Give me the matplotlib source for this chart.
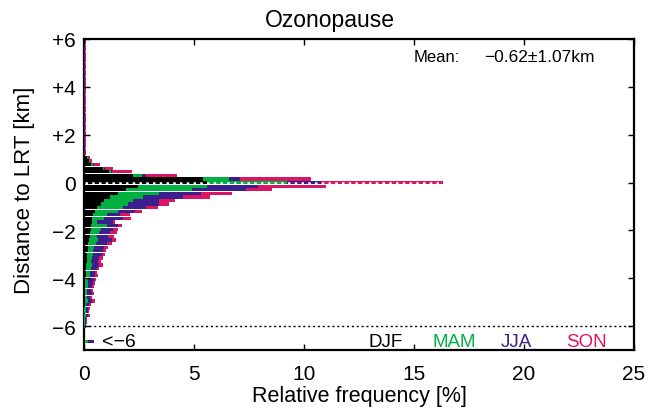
import numpy as np
import matplotlib
matplotlib.use("Agg")
import matplotlib.pyplot as plt

plt.rcParams["font.family"] = ["Liberation Sans", "DejaVu Sans"]

# bin centres (km), top to bottom
bin_km = [round(6.0 - 0.15 * i, 2) for i in range(81)]

# cumulative right ends for bins +1.05 ... -6.0 (DJF, +MAM, +JJA, +SON)
cum_rows = [
    (0.15, 0.17, 0.19, 0.25), (0.24, 0.25, 0.27, 0.35), (0.32, 0.42, 0.45, 0.73),
    (0.85, 0.92, 0.95, 1.33), (1.15, 1.23, 1.29, 2.17), (2.24, 2.62, 2.82, 4.21),
    (5.4, 6.6, 7.1, 10.3), (5.6, 9.24, 10.76, 16.33), (2.47, 5.58, 7.92, 11.0),
    (1.91, 4.9, 7.35, 8.53), (1.56, 3.41, 5.32, 6.74), (1.18, 2.7, 4.5, 5.73),
    (0.9, 2.24, 3.42, 4.14), (0.75, 2.0, 3.42, 3.88), (0.6, 1.79, 2.82, 3.38),
    (0.5, 1.56, 2.32, 2.62), (0.42, 1.03, 1.64, 2.09), (0.38, 0.91, 1.79, 2.14),
    (0.35, 0.61, 1.33, 1.41), (0.33, 1.03, 1.56, 1.71), (0.3, 0.75, 1.3, 1.55),
    (0.28, 0.7, 1.2, 1.5), (0.25, 0.6, 1.1, 1.35), (0.22, 0.62, 1.25, 1.45),
    (0.2, 0.55, 1.05, 1.25), (0.18, 0.45, 0.9, 1.1), (0.16, 0.42, 0.85, 1.0),
    (0.15, 0.4, 0.8, 0.95), (0.14, 0.38, 0.7, 0.85), (0.12, 0.32, 0.62, 0.75),
    (0.1, 0.38, 0.7, 0.85), (0.1, 0.3, 0.58, 0.7), (0.08, 0.25, 0.5, 0.6),
    (0.07, 0.25, 0.52, 0.65), (0.06, 0.2, 0.45, 0.55), (0.05, 0.18, 0.4, 0.5),
    (0.05, 0.16, 0.36, 0.45), (0.04, 0.14, 0.32, 0.4), (0.04, 0.15, 0.36, 0.45),
    (0.03, 0.12, 0.28, 0.35), (0.03, 0.16, 0.38, 0.5), (0.03, 0.1, 0.22, 0.3),
    (0.02, 0.08, 0.18, 0.25), (0.02, 0.07, 0.16, 0.22), (0.02, 0.08, 0.18, 0.25),
    (0.02, 0.05, 0.1, 0.15), (0.01, 0.04, 0.08, 0.12), (0.01, 0.03, 0.07, 0.1),
]
# tiny values in the upper bins (+6.0 ... +1.2)
upper_row = (0.0, 0.01, 0.05, 0.1)
cum = [upper_row] * (81 - len(cum_rows)) + cum_rows

# "< -6" bin
below_cum = (0.05, 0.2, 0.45, 0.47)

seasons = ["DJF", "MAM", "JJA", "SON"]
colors = ["#000000", "#00b040", "#3c1e8c", "#dc1464"]

cum = np.array(cum)
segs = np.diff(np.hstack([np.zeros((len(cum), 1)), cum]), axis=1)

fig = plt.figure(figsize=(6.59, 4.10), dpi=100)
ax = fig.add_axes([84 / 659, 1 - 351 / 410, 550 / 659, 311 / 410])

h = 0.135
y = np.array(bin_km)
left = np.zeros(len(y))
for j in range(4):
    ax.barh(y, segs[:, j], left=left, height=h, color=colors[j], linewidth=0)
    left = left + segs[:, j]

bl = 0.0
bseg = np.diff(np.concatenate([[0], below_cum]))
for j in range(4):
    ax.barh(-6.65, bseg[j], left=bl, height=h, color=colors[j], linewidth=0)
    bl += bseg[j]

# zero-bin white dotted overlay
i0 = bin_km.index(0.0)
ax.plot([0.05, cum[i0, 3]], [0, 0], color="white", lw=1.8,
        linestyle=(0, (1, 1.7)), solid_capstyle="butt")

ax.axhline(-6, color="black", lw=1, linestyle=(0, (1.5, 2)))

ax.set_xlim(0, 25)
ax.set_ylim(-7, 6)
ax.set_xticks([0, 5, 10, 15, 20, 25])
ax.set_yticks([6, 4, 2, 0, -2, -4, -6])
ax.set_yticklabels(["+6", "+4", "+2", "0", "\u22122", "\u22124", "\u22126"])
ax.tick_params(direction="in", length=4, width=1, top=True, right=True,
               labelsize=15)
ax.tick_params(axis="x", pad=10)
ax.tick_params(axis="y", pad=6)
for s in ax.spines.values():
    s.set_linewidth(1.6)
    s.set_zorder(0.5)

fig.text(0.5, 1 - 20 / 410, "Ozonopause", fontsize=16.5, ha="center", va="center")
fig.text(359 / 659, 1 - 397 / 410, "Relative frequency [%]", fontsize=15.5,
         ha="center", va="center")
fig.text(25 / 659, 1 - 190 / 410, "Distance to LRT [km]", fontsize=16,
         ha="center", va="center", rotation=90)

ax.text(0.8, -6.65, "<\u22126", fontsize=14, va="center", ha="left")
lx = [13.7, 16.85, 19.65, 22.85]
for j in range(4):
    ax.text(lx[j], -6.65, seasons[j], color=colors[j], fontsize=13.5,
            va="center", ha="center")

ax.text(15.0, 5.25, "Mean:", fontsize=12, va="center", ha="left")
ax.text(18.2, 5.25, "\u22120.62\u00b11.07km", fontsize=12.5, va="center", ha="left")

fig.savefig("out.png", dpi=100)
